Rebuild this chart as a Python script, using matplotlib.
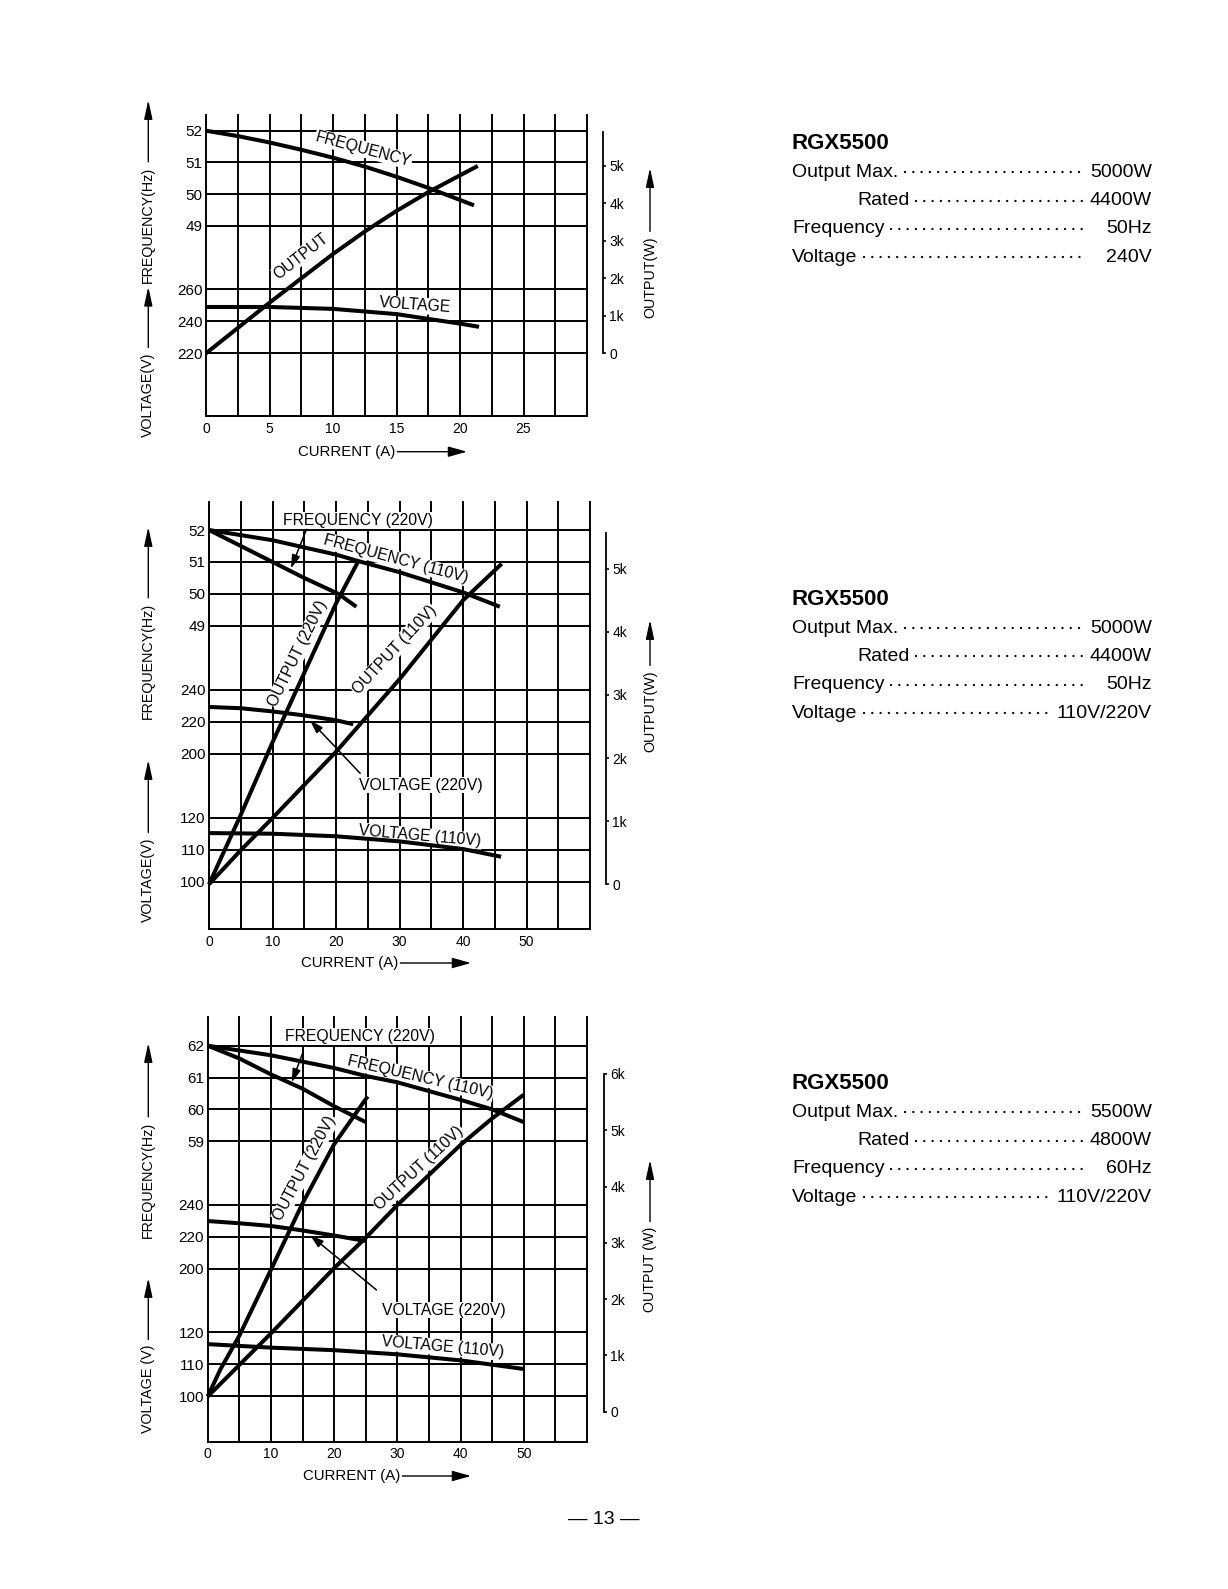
import matplotlib
matplotlib.use("Agg")
import matplotlib.pyplot as plt
from matplotlib.patches import FancyArrowPatch
from matplotlib.lines import Line2D

W, H, DPI = 1228, 1589, 100
plt.rcParams['font.family'] = ['Liberation Sans', 'DejaVu Sans']

# ---------------- data ----------------
# chart 1 : 240V / 50Hz
c1_freq_a = [0, 2.5, 5, 7.5, 10, 12.5, 15, 17.5, 20, 21.1]
c1_freq_hz = [52, 51.83, 51.63, 51.4, 51.15, 50.87, 50.55, 50.2, 49.82, 49.65]
c1_out_a = [0, 5, 10, 12.5, 15, 17.5, 20, 21.4]
c1_out_w = [0, 1350, 2650, 3250, 3800, 4300, 4750, 5000]
c1_volt_a = [0, 5, 10, 15, 17.5, 20, 21.5]
c1_volt_v = [249, 249, 247.8, 244.5, 241.5, 238.5, 236.5]

# chart 2 : 110V/220V, 50Hz
c2_f110_a = [0, 10, 20, 24, 30, 40, 45.8]
c2_f110_hz = [52, 51.68, 51.23, 51.0, 50.68, 50.05, 49.6]
c2_f220_a = [0, 5, 10, 15, 20.4, 23.2]
c2_f220_hz = [52, 51.5, 51.0, 50.5, 50.0, 49.6]
c2_o220_a = [0, 5, 10, 15, 20, 23.4]
c2_o220_w = [0, 1100, 2250, 3350, 4450, 5100]
c2_o110_a = [0, 5, 10, 20, 30, 40, 46.1]
c2_o110_w = [0, 540, 1050, 2100, 3250, 4500, 5080]
c2_v220_a = [0, 5, 10, 15, 20, 22.7]
c2_v220_v = [229.3, 228.5, 226.5, 224, 221, 218.5]
c2_v110_a = [0, 10, 20, 30, 40, 46]
c2_v110_v = [115.2, 115.0, 114.2, 112.6, 110.2, 107.8]

# chart 3 : 110V/220V, 60Hz
c3_f110_a = [0, 10, 20, 25, 30, 40, 45, 50]
c3_f110_hz = [62, 61.7, 61.3, 61.05, 60.85, 60.3, 60.0, 59.6]
c3_f220_a = [0, 5, 10, 15, 20, 25]
c3_f220_hz = [62, 61.6, 61.1, 60.65, 60.1, 59.6]
c3_o220_a = [0, 2, 5, 10, 15, 20, 25.3]
c3_o220_w = [270, 750, 1350, 2520, 3700, 4750, 5600]
c3_o110_a = [0, 10, 20, 25, 30, 40, 45, 50]
c3_o110_w = [270, 1390, 2550, 3090, 3670, 4740, 5210, 5630]
c3_v220_a = [0, 5, 10, 15, 20, 24.9]
c3_v220_v = [229.9, 228.5, 226.8, 224, 220.8, 217.4]
c3_v110_a = [0, 10, 20, 30, 40, 50]
c3_v110_v = [116.3, 115.2, 114.4, 113.1, 111.2, 108.5]

# tick labels
c1_xticks = [0, 5, 10, 15, 20, 25]
c23_xticks = [0, 10, 20, 30, 40, 50]
c1_freq_ticks = [52, 51, 50, 49]
c1_volt_ticks = [260, 240, 220]
c2_freq_ticks = [52, 51, 50, 49]
c3_freq_ticks = [62, 61, 60, 59]
hi_volt_ticks = [240, 220, 200]
lo_volt_ticks = [120, 110, 100]
out_ticks_5k = [0, 1000, 2000, 3000, 4000, 5000]
out_ticks_6k = [0, 1000, 2000, 3000, 4000, 5000, 6000]

# spec text on the right
model = 'RGX5500'
spec_labels = ['Output Max.', 'Rated', 'Frequency', 'Voltage']
spec1_values = ['5000W', '4400W', '50Hz', '240V']
spec2_values = ['5000W', '4400W', '50Hz', '110V/220V']
spec3_values = ['5500W', '4800W', '60Hz', '110V/220V']

# ---------------- page layout (pixels from top-left) ----------------
g1 = dict(left=206, right=587, top=115, bottom=416.5, row0=130.7, rowh=31.76,
          xmax=30, step=2.5, rows=[0, 1, 2, 3, 5, 6, 7],
          out0=353.3, outk=37.47, spine_x=603, spine_top=5900)
g2 = dict(left=209, right=590, top=502, bottom=929.3, row0=530, rowh=31.97,
          xmax=60, step=5, rows=[0, 1, 2, 3, 5, 6, 7, 9, 10, 11],
          out0=884.3, outk=63.1, spine_x=606, spine_top=5570)
g3 = dict(left=207.7, right=587, top=1016.7, bottom=1441.7, row0=1045.7, rowh=31.85,
          xmax=60, step=5, rows=[0, 1, 2, 3, 5, 6, 7, 9, 10, 11],
          out0=1411.7, outk=56.3, spine_x=604, spine_top=6000)

fig = plt.figure(figsize=(W / DPI, H / DPI), dpi=DPI)
fig.patch.set_facecolor('white')
renderer = fig.canvas.get_renderer()

CURVE_LW = 2.9
GRID_LW = 1.4
LABEL_FS = 11.3


def fx(x):
    return x / W


def fy(y):
    return 1 - y / H


def arrow(x0, y0, x1, y1, head=16, width=3.5, lw=1.0):
    # head sizes given in pixels
    a = FancyArrowPatch((fx(x0), fy(y0)), (fx(x1), fy(y1)), transform=fig.transFigure,
                        arrowstyle='-|>,head_length=%.2f,head_width=%.2f' % (head * 0.072, width * 0.072),
                        mutation_scale=10, lw=lw, color='k', shrinkA=0, shrinkB=0)
    fig.add_artist(a)


def row_px(g, r):
    return g['row0'] + r * g['rowh']


def make_chart(g, xticks):
    base = fig.add_axes([fx(g['left']), fy(g['bottom']),
                         (g['right'] - g['left']) / W, (g['bottom'] - g['top']) / H])
    r_top = (g['top'] - g['row0']) / g['rowh']
    r_bot = (g['bottom'] - g['row0']) / g['rowh']
    base.set_xlim(0, g['xmax'])
    base.set_ylim(r_bot, r_top)
    base.patch.set_visible(False)
    for s in base.spines.values():
        s.set_visible(False)
    n = round(g['xmax'] / g['step'])
    for i in range(n + 1):
        base.axvline(i * g['step'], color='k', lw=GRID_LW, zorder=1, clip_on=False)
    base.hlines(g['rows'] + [r_bot], 0, g['xmax'], color='k', lw=GRID_LW, zorder=1, clip_on=False)
    base.set_xticks(xticks)
    base.set_xticklabels([str(v) for v in xticks])
    base.set_yticks([])
    base.tick_params(axis='x', length=0, pad=4.0, labelsize=10)
    return base


def overlay(base, g, p1, p2):
    ax = fig.add_axes(base.get_position().bounds, sharex=base)
    (v1, y1), (v2, y2) = p1, p2
    k = (v2 - v1) / (y2 - y1)
    ax.set_ylim(v1 + (g['bottom'] - y1) * k, v1 + (g['top'] - y1) * k)
    ax.patch.set_visible(False)
    for s in ax.spines.values():
        s.set_visible(False)
    ax.tick_params(axis='x', bottom=False, labelbottom=False)
    ax.tick_params(axis='y', left=False, labelleft=False, right=False, labelright=False)
    return ax


def left_ticks(ax, vals):
    ax.set_yticks(vals)
    ax.set_yticklabels([str(v) for v in vals])
    ax.tick_params(axis='y', left=True, labelleft=True, length=0, pad=2.5, labelsize=11)


def output_axis(base, g, ticks):
    ax = overlay(base, g, (0, g['out0']), (1000, g['out0'] - g['outk']))
    sp = ax.spines['right']
    sp.set_visible(True)
    sp.set_position(('outward', (g['spine_x'] - g['right']) * 72 / DPI))
    sp.set_bounds(0, g['spine_top'])
    sp.set_linewidth(1.3)
    ax.yaxis.set_ticks_position('right')
    ax.set_yticks(ticks)
    ax.set_yticklabels(['0' if t == 0 else '%dk' % (t // 1000) for t in ticks])
    ax.tick_params(axis='y', right=True, labelright=True, direction='out',
                   length=2.5, width=1.2, pad=2, labelsize=10)
    return ax


def curve(ax, x, y):
    ax.plot(x, y, color='k', lw=CURVE_LW, solid_capstyle='butt', solid_joinstyle='round',
            clip_on=False, zorder=3)


def curve_label(base, x, r, s, rot):
    base.text(x, r, s, rotation=rot, rotation_mode='anchor', ha='center', va='center',
              fontsize=LABEL_FS, zorder=5, bbox=dict(fc='white', ec='none', pad=0.6))


def pointer(base, start, tip):
    base.annotate('', xy=tip, xytext=start,
                  arrowprops=dict(arrowstyle='-|>,head_length=0.8,head_width=0.25',
                                  mutation_scale=10, lw=1.1, color='k',
                                  shrinkA=0, shrinkB=0), zorder=6)


def vlabel(x, y_bottom, s, tip, size=10.3):
    t = fig.text(fx(x), fy(y_bottom), s, rotation=90, rotation_mode='anchor',
                 ha='left', va='center', fontsize=size)
    bb = t.get_window_extent(renderer)
    arrow(x, H - bb.y1 - 5, x, tip)


def hlabel(x_left, y, s, tip):
    t = fig.text(fx(x_left), fy(y), s, ha='left', va='center', fontsize=10.8)
    bb = t.get_window_extent(renderer)
    arrow(bb.x1 + 2, y, tip, y, head=16, width=4.5)


# ---------------- chart 1 ----------------
b1 = make_chart(g1, c1_xticks)
f1 = overlay(b1, g1, (52, row_px(g1, 0)), (51, row_px(g1, 1)))
v1 = overlay(b1, g1, (260, row_px(g1, 5)), (240, row_px(g1, 6)))
o1 = output_axis(b1, g1, out_ticks_5k)
left_ticks(f1, c1_freq_ticks)
left_ticks(v1, c1_volt_ticks)
curve(f1, c1_freq_a, c1_freq_hz)
curve(v1, c1_volt_a, c1_volt_v)
curve(o1, c1_out_a, c1_out_w)
curve_label(b1, 12.4, 0.58, 'FREQUENCY', -15)
curve_label(b1, 7.5, 3.95, 'OUTPUT', 38)
curve_label(b1, 16.46, 5.5, 'VOLTAGE', -4)

# ---------------- chart 2 ----------------
b2 = make_chart(g2, c23_xticks)
f2 = overlay(b2, g2, (52, row_px(g2, 0)), (51, row_px(g2, 1)))
vh2 = overlay(b2, g2, (240, row_px(g2, 5)), (220, row_px(g2, 6)))
vl2 = overlay(b2, g2, (120, row_px(g2, 9)), (110, row_px(g2, 10)))
o2 = output_axis(b2, g2, out_ticks_5k)
left_ticks(f2, c2_freq_ticks)
left_ticks(vh2, hi_volt_ticks)
left_ticks(vl2, lo_volt_ticks)
curve(f2, c2_f110_a, c2_f110_hz)
curve(f2, c2_f220_a, c2_f220_hz)
curve(vh2, c2_v220_a, c2_v220_v)
curve(vl2, c2_v110_a, c2_v110_v)
curve(o2, c2_o220_a, c2_o220_w)
curve(o2, c2_o110_a, c2_o110_w)
curve_label(b2, 29.5, 0.92, 'FREQUENCY (110V)', -15)
curve_label(b2, 14.0, 3.85, 'OUTPUT (220V)', 64)
curve_label(b2, 29.2, 3.75, 'OUTPUT (110V)', 47)
curve_label(b2, 33.2, 9.57, 'VOLTAGE (110V)', -5)
curve_label(b2, 23.4, -0.29, 'FREQUENCY (220V)', 0)
curve_label(b2, 33.4, 7.98, 'VOLTAGE (220V)', 0)
pointer(b2, (15.35, -0.02), (12.9, 1.2))
pointer(b2, (23.8, 7.61), (15.9, 5.95))

# ---------------- chart 3 ----------------
b3 = make_chart(g3, c23_xticks)
f3 = overlay(b3, g3, (62, row_px(g3, 0)), (61, row_px(g3, 1)))
vh3 = overlay(b3, g3, (240, row_px(g3, 5)), (220, row_px(g3, 6)))
vl3 = overlay(b3, g3, (120, row_px(g3, 9)), (110, row_px(g3, 10)))
o3 = output_axis(b3, g3, out_ticks_6k)
left_ticks(f3, c3_freq_ticks)
left_ticks(vh3, hi_volt_ticks)
left_ticks(vl3, lo_volt_ticks)
curve(f3, c3_f110_a, c3_f110_hz)
curve(f3, c3_f220_a, c3_f220_hz)
curve(vh3, c3_v220_a, c3_v220_v)
curve(vl3, c3_v110_a, c3_v110_v)
curve(o3, c3_o220_a, c3_o220_w)
curve(o3, c3_o110_a, c3_o110_w)
curve_label(b3, 33.6, 1.0, 'FREQUENCY (110V)', -13)
curve_label(b3, 15.4, 3.85, 'OUTPUT (220V)', 62)
curve_label(b3, 33.5, 3.85, 'OUTPUT (110V)', 43)
curve_label(b3, 37.2, 9.47, 'VOLTAGE (110V)', -5)
curve_label(b3, 24.1, -0.28, 'FREQUENCY (220V)', 0)
curve_label(b3, 37.4, 8.3, 'VOLTAGE (220V)', 0)
pointer(b3, (15.1, 0.19), (13.3, 1.15))
pointer(b3, (26.7, 7.67), (16.2, 5.95))

# ---------------- axis titles with arrows ----------------
vlabel(148.3, 437, 'VOLTAGE(V)', 286.7)
vlabel(148.3, 283, 'FREQUENCY(Hz)', 100)
vlabel(148.3, 922, 'VOLTAGE(V)', 760)
vlabel(148.3, 719, 'FREQUENCY(Hz)', 527)
vlabel(148.3, 1433, 'VOLTAGE (V)', 1278)
vlabel(148.3, 1238, 'FREQUENCY(Hz)', 1043)

vlabel(650, 318, 'OUTPUT(W)', 168)
vlabel(650, 752, 'OUTPUT(W)', 620)
vlabel(650, 1312, 'OUTPUT (W)', 1160)

hlabel(298, 451.7, 'CURRENT (A)', 467)
hlabel(301, 963, 'CURRENT (A)', 471)
hlabel(303, 1476, 'CURRENT (A)', 471)


# ---------------- spec blocks ----------------
def spec_block(base_y, values):
    fig.text(fx(792), fy(base_y), model, fontsize=16, fontweight='bold', va='baseline')
    first_left = None
    for i, (lab, val) in enumerate(zip(spec_labels, values)):
        y = base_y + 27.4 + i * 28.3
        lx = 857 if lab == 'Rated' else 792
        t1 = fig.text(fx(lx), fy(y), lab, fontsize=14, va='baseline')
        t2 = fig.text(fx(1152), fy(y), val, fontsize=14, va='baseline', ha='right')
        e1 = t1.get_window_extent(renderer)
        e2 = t2.get_window_extent(renderer)
        if first_left is None:
            first_left = e2.x0
        x0 = e1.x1 + 7
        x1 = min(first_left, e2.x0) - 6
        fig.add_artist(Line2D([fx(x0), fx(x1)], [fy(y - 4.5)] * 2, transform=fig.transFigure,
                              color='k', lw=1.7, linestyle=(0, (0.01, 3.5)),
                              dash_capstyle='round'))


spec_block(149.3, spec1_values)
spec_block(605.2, spec2_values)
spec_block(1089.3, spec3_values)

fig.text(fx(604), fy(1520), '— 13 —', ha='center', va='center', fontsize=14)

fig.savefig('out.png', dpi=DPI, facecolor='white')
